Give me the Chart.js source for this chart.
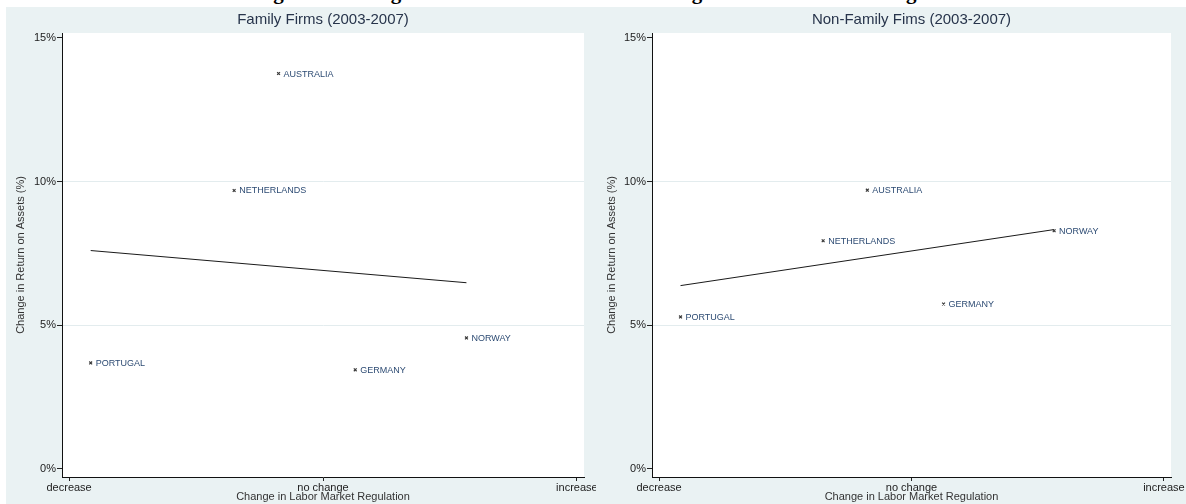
<!DOCTYPE html>
<html>
<head>
<meta charset="utf-8">
<script src="https://cdn.jsdelivr.net/npm/chart.js@4.4.1/dist/chart.umd.min.js"></script>
<style>
  html, body { margin: 0; padding: 0; background: #fff; }
  #page { position: relative; width: 1186px; height: 504px; overflow: hidden; background: #fff; }
  #bg { position: absolute; left: 6px; top: 7px; right: 0; bottom: 0; background: #EAF2F3; }
  #heading { position: absolute; left: 20px; top: -18px; width: 1194px; text-align: center;
             font: bold 21px "Liberation Serif", "Times New Roman", serif; line-height: 21px;
             color: #000; white-space: nowrap; }
  .panel { position: absolute; top: 0; height: 504px; overflow: hidden; }
  #wrapL { left: 0; width: 596px; }
  #wrapR { left: 596px; width: 590px; }
  .panel canvas { position: absolute; left: 0; top: 0; }
</style>
</head>
<body>
<div id="page">
  <div id="bg"></div>
  <div id="heading">Figure 4: Changes in Return on Assets and Changes in Labor Market Regulation</div>
  <div class="panel" id="wrapL"><canvas id="family" width="620" height="504"></canvas></div>
  <div class="panel" id="wrapR"><canvas id="nonFamily" width="620" height="504"></canvas></div>
</div>
<script>
// Countries and the change in labour market regulation (-1 = decrease, 0 = no change, 1 = increase)
const countries = ['PORTUGAL', 'NETHERLANDS', 'AUSTRALIA', 'GERMANY', 'NORWAY'];
const regulationChange = [-0.915, -0.35, -0.175, 0.127, 0.565];

// Change in return on assets (%), 2003-2007
const roaFamily = [3.69, 9.69, 13.76, 3.45, 4.56];
const roaNonFamily = [5.29, 7.94, 9.70, 5.74, 8.29];

// Linear fit end points
const fitX = [-0.915, 0.565];
const fitFamilyY = [7.60, 6.48];
const fitNonFamilyY = [6.38, 8.33];

// Axis ticks
const xTickValues = [-1, 0, 1];
const xTickLabels = ['decrease', 'no change', 'increase'];
const yTickValues = [0, 5, 10, 15];

Chart.defaults.font.family = "'Liberation Sans', Arial, Helvetica, sans-serif";

const plotBackground = {
  id: 'plotBackground',
  beforeDraw(chart) {
    const { ctx, chartArea: a } = chart;
    ctx.save();
    ctx.fillStyle = '#ffffff';
    ctx.fillRect(a.left, a.top, a.right - a.left, a.bottom - a.top);
    ctx.restore();
  }
};

const pointLabels = {
  id: 'pointLabels',
  afterDatasetsDraw(chart) {
    const { ctx } = chart;
    const meta = chart.getDatasetMeta(0);
    ctx.save();
    ctx.font = "9px 'Liberation Sans', Arial, sans-serif";
    ctx.fillStyle = '#2d4b73';
    ctx.textAlign = 'left';
    ctx.textBaseline = 'middle';
    meta.data.forEach((el, i) => ctx.fillText(countries[i], el.x + 5, el.y + 0.5));
    ctx.restore();
  }
};

function makePanel(canvasId, titleText, roa, fitY, yAxisWidth, rightPad, yTitlePad) {
  const points = regulationChange.map((x, i) => ({ x: x, y: roa[i] }));
  const fit = fitX.map((x, i) => ({ x: x, y: fitY[i] }));
  return new Chart(document.getElementById(canvasId), {
    type: 'scatter',
    data: {
      datasets: [
        { data: points, pointStyle: 'crossRot', pointRadius: 2, borderWidth: 1.2,
          borderColor: '#3a3a3a', backgroundColor: '#3a3a3a' },
        { data: fit, showLine: true, pointRadius: 0, borderColor: '#1a1a1a',
          borderWidth: 1, fill: false }
      ]
    },
    options: {
      responsive: false,
      animation: false,
      devicePixelRatio: 1,
      layout: { padding: { left: 0, right: rightPad, top: 0, bottom: 0 } },
      plugins: {
        legend: { display: false },
        tooltip: { enabled: false },
        title: {
          display: true, text: titleText, fullSize: false, color: '#27344b',
          font: { size: 15, weight: 'normal' }, padding: { top: 11, bottom: 4 }
        }
      },
      scales: {
        x: {
          type: 'linear', min: -1.028, max: 1.028,
          afterBuildTicks: s => { s.ticks = xTickValues.map(v => ({ value: v })); },
          afterFit: s => { s.height = 27; },
          ticks: {
            color: '#222', font: { size: 11 }, padding: 0, maxRotation: 0, autoSkip: false,
            callback: v => xTickLabels[xTickValues.indexOf(v)]
          },
          grid: { color: 'rgba(0,0,0,0)', tickColor: '#222', tickLength: 4, drawOnChartArea: false },
          border: { display: true, color: '#111', width: 1 },
          title: { display: true, text: 'Change in Labor Market Regulation', color: '#333',
                   font: { size: 11 }, padding: { top: 0, bottom: 0 } }
        },
        y: {
          type: 'linear', min: -0.28, max: 15.17,
          afterBuildTicks: s => { s.ticks = yTickValues.map(v => ({ value: v })); },
          afterFit: s => { s.width = yAxisWidth; },
          ticks: { color: '#222', font: { size: 11 }, padding: 1, callback: v => v + '%' },
          grid: {
            color: c => (c.tick && (c.tick.value === 5 || c.tick.value === 10)) ? '#e3ecee' : 'rgba(0,0,0,0)',
            tickColor: '#222', tickLength: 5
          },
          border: { display: true, color: '#111', width: 1 },
          title: { display: true, text: 'Change in Return on Assets (%)', color: '#333',
                   font: { size: 11 }, padding: { top: yTitlePad, bottom: 0 } }
        }
      }
    },
    plugins: [plotBackground, pointLabels]
  });
}

makePanel('family', 'Family Firms (2003-2007)', roaFamily, fitFamilyY, 62, 36, 14);
makePanel('nonFamily', 'Non-Family Fims (2003-2007)', roaNonFamily, fitNonFamilyY, 56, 45, 9);
</script>
</body>
</html>
